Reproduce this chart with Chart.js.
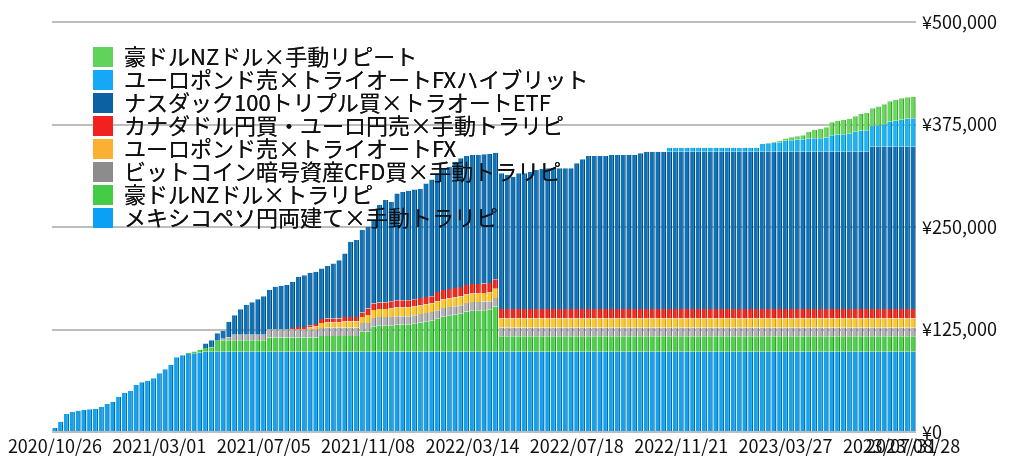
<!DOCTYPE html>
<html lang="ja">
<head>
<meta charset="utf-8">
<script src="https://cdn.jsdelivr.net/npm/chart.js@4.4.0/dist/chart.umd.min.js"></script>
<style>
  html, body { margin: 0; padding: 0; background: #fff; }
  #wrap { width: 1024px; height: 471px; }
</style>
</head>
<body>
<div id="wrap"><canvas id="profitChart" width="1024" height="471"></canvas></div>
<script>
// 週次の日付ラベル（2020/10/26 から 149 週）
const startDate = Date.UTC(2020, 9, 26);
const weekCount = 149;
const weekLabels = [];
for (let i = 0; i < weekCount; i++) {
  const d = new Date(startDate + i * 7 * 86400000);
  const mm = String(d.getUTCMonth() + 1).padStart(2, '0');
  const dd = String(d.getUTCDate()).padStart(2, '0');
  weekLabels.push(`${d.getUTCFullYear()}/${mm}/${dd}`);
}

const yTicks = [0, 125000, 250000, 375000, 500000];

// メキシコペソ円両建て×手動トラリピ
const mexicoPeso = [
  4900,12600,22000,24800,26000,26800,27700,28400,30900,34100,
  37000,43000,47900,50400,57300,60600,62600,65500,71600,76500,
  81700,91100,93500,95100,95900,96700,98000,98000,98000,98000,
  98000,98000,98000,98000,98000,98000,98000,98000,98000,98000,
  98000,98000,98000,98000,98000,98000,98000,98000,98000,98000,
  98000,98000,98000,98000,98000,98000,98000,98000,98000,98000,
  98000,98000,98000,98000,98000,98000,98000,98000,98000,98000,
  98000,98000,98000,98000,98000,98000,98000,98000,98000,98000,
  98000,98000,98000,98000,98000,98000,98000,98000,98000,98000,
  98000,98000,98000,98000,98000,98000,98000,98000,98000,98000,
  98000,98000,98000,98000,98000,98000,98000,98000,98000,98000,
  98000,98000,98000,98000,98000,98000,98000,98000,98000,98000,
  98000,98000,98000,98000,98000,98000,98000,98000,98000,98000,
  98000,98000,98000,98000,98000,98000,98000,98000,98000,98000,
  98000,98000,98000,98000,98000,98000,98000,98000,98000
];

// 豪ドルNZドル×トラリピ
const audNzdTrap = [
  0,0,0,0,0,0,0,0,0,0,
  0,0,0,0,0,0,0,0,0,0,
  0,0,0,1200,2400,3700,4300,5500,13400,14000,
  14000,14000,14000,14000,14000,14000,14000,17100,17100,17100,
  17100,17100,17100,17100,17100,17100,19100,19100,19100,19100,
  19100,19100,19100,24400,24400,30500,31700,31700,31700,32900,
  32900,32900,34100,35400,36600,37800,40200,42700,43900,45100,
  46300,48800,50000,50000,50600,51200,54900,18900,18900,18900,
  18900,18900,18900,18900,18900,18900,18900,18900,18900,18900,
  18900,18900,18900,18900,18900,18900,18900,18900,18900,18900,
  18900,18900,18900,18900,18900,18900,18900,18900,18900,18900,
  18900,18900,18900,18900,18900,18900,18900,18900,18900,18900,
  18900,18900,18900,18900,18900,18900,18900,18900,18900,18900,
  18900,18900,18900,18900,18900,18900,18900,18900,18900,18900,
  18900,18900,18900,18900,18900,18900,18900,18900,18900
];

// ビットコイン暗号資産CFD買×手動トラリピ
const bitcoinCfd = [
  0,0,0,0,0,0,0,0,0,0,
  0,0,0,0,0,0,0,0,0,0,
  0,0,0,0,0,0,0,0,0,1800,
  3700,6700,6700,6700,6700,6700,6700,9800,9800,9800,
  9800,9800,9800,9800,9800,9800,9800,10400,10400,10400,
  10400,10400,10400,10400,10400,10400,10400,10400,10400,10400,
  10400,10400,10400,10400,10400,10400,10400,10400,10400,10400,
  10400,10400,10400,10400,10400,10400,10400,10400,10400,10400,
  10400,10400,10400,10400,10400,10400,10400,10400,10400,10400,
  10400,10400,10400,10400,10400,10400,10400,10400,10400,10400,
  10400,10400,10400,10400,10400,10400,10400,10400,10400,10400,
  10400,10400,10400,10400,10400,10400,10400,10400,10400,10400,
  10400,10400,10400,10400,10400,10400,10400,10400,10400,10400,
  10400,10400,10400,10400,10400,10400,10400,10400,10400,10400,
  10400,10400,10400,10400,10400,10400,10400,10400,10400
];

// ユーロポンド売×トライオートFX
const eurGbpAuto = [
  0,0,0,0,0,0,0,0,0,0,
  0,0,0,0,0,0,0,0,0,0,
  0,0,0,0,0,0,0,0,0,0,
  0,0,0,0,0,0,0,0,0,0,
  0,0,0,0,2400,3700,6100,6100,6100,6100,
  7300,7300,7300,7300,9800,9800,9800,9800,10400,10400,
  10400,10400,10400,10400,10400,10400,10400,10400,10400,10400,
  10400,10400,10400,10400,10400,10400,11300,11000,11000,11000,
  11000,11000,11000,11000,11000,11000,11000,11000,11000,11000,
  11000,11000,11000,11000,11000,11000,11000,11000,11000,11000,
  11000,11000,11000,11000,11000,11000,11000,11000,11000,11000,
  11000,11000,11000,11000,11000,11000,11000,11000,11000,11000,
  11000,11000,11000,11000,11000,11000,11000,11000,11000,11000,
  11000,11000,11000,11000,11000,11000,11000,11000,11000,11000,
  11000,11000,11000,11000,11000,11000,11000,11000,11000
];

// カナダドル円買・ユーロ円売×手動トラリピ
const cadEurTrap = [
  0,0,0,0,0,0,0,0,0,0,
  0,0,0,0,0,0,0,0,0,0,
  0,0,0,0,0,0,0,0,0,0,
  0,0,0,0,0,0,0,0,0,0,
  0,1800,3000,3000,3000,3000,4900,4900,4900,4900,
  5500,5500,5500,5500,7900,7900,7900,7900,9100,9100,
  9100,9100,9100,9100,9100,9100,11600,11600,11600,11600,
  11600,11600,11600,11600,11600,11600,11600,11600,11600,11600,
  11600,11600,11600,11600,11600,11600,11600,11600,11600,11600,
  11600,11600,11600,11600,11600,11600,11600,11600,11600,11600,
  11600,11600,11600,11600,11600,11600,11600,11600,11600,11600,
  11600,11600,11600,11600,11600,11600,11600,11600,11600,11600,
  11600,11600,11600,11600,11600,11600,11600,11600,11600,11600,
  11600,11600,11600,11600,11600,11600,11600,11600,11600,11600,
  11600,11600,11600,11600,11600,11600,11600,11600,11600
];

// ナスダック100トリプル買×トラオートETF
const nasdaqEtf = [
  0,0,0,0,0,0,0,0,0,0,
  0,0,0,0,0,0,0,0,0,0,
  0,0,0,0,0,0,5700,8500,9100,9500,
  18700,23800,31100,36600,39600,43300,47000,48200,52200,53400,
  54300,56500,61300,63400,63800,63800,61600,63800,67100,71100,
  77400,91600,93700,100600,99800,101800,118900,125000,121100,130100,
  132100,133300,133800,132900,138700,142300,144800,148400,149100,154000,
  157000,157300,157300,157300,157600,157300,154300,165500,163400,161300,
  165500,165500,167400,169500,170700,171600,171600,171600,171600,171600,
  177700,182600,186600,186600,186600,186600,187800,187800,187800,187800,
  187800,189900,191800,191800,191800,191800,191800,191800,191800,191800,
  191800,191800,191800,191800,191800,191800,191800,191800,191800,191800,
  191800,191800,191800,191800,191800,191800,191800,191800,191800,191800,
  191800,191800,191800,191800,191800,191800,191800,191800,191800,191800,
  191800,197900,197900,197900,197900,197900,197900,197900,197900
];

// ユーロポンド売×トライオートFXハイブリット
const eurGbpHybrid = [
  0,0,0,0,0,0,0,0,0,0,
  0,0,0,0,0,0,0,0,0,0,
  0,0,0,0,0,0,0,0,0,0,
  0,0,0,0,0,0,0,0,0,0,
  0,0,0,0,0,0,0,0,0,0,
  0,0,0,0,0,0,0,0,0,0,
  0,0,0,0,0,0,0,0,0,0,
  0,0,0,0,0,0,0,0,0,0,
  0,0,0,0,0,0,0,0,0,0,
  0,0,0,0,0,0,0,0,0,0,
  0,0,0,0,0,0,4900,4900,4900,4900,
  4900,4900,4900,4900,4900,4900,4900,4900,4900,4900,
  4900,4900,9800,10400,11000,11600,13400,14000,14600,15200,
  15900,16500,16500,17100,20100,20700,21300,22000,24400,25600,
  26200,25600,26200,27400,30500,31700,32900,34100,34800
];

// 豪ドルNZドル×手動リピート
const audNzdManual = [
  0,0,0,0,0,0,0,0,0,0,
  0,0,0,0,0,0,0,0,0,0,
  0,0,0,0,0,0,0,0,0,0,
  0,0,0,0,0,0,0,0,0,0,
  0,0,0,0,0,0,0,0,0,0,
  0,0,0,0,0,0,0,0,0,0,
  0,0,0,0,0,0,0,0,0,0,
  0,0,0,0,0,0,0,0,0,0,
  0,0,0,0,0,0,0,0,0,0,
  0,0,0,0,0,0,0,0,0,0,
  0,0,0,0,0,0,0,0,0,0,
  0,0,0,0,0,0,0,0,0,0,
  0,0,0,0,1200,1800,2900,3700,4300,4900,
  8500,10400,11600,12800,15900,17100,17700,18300,18900,20700,
  21000,21500,23000,24500,25000,25600,26200,26200,26200
];

const seriesList = [
  { label: 'メキシコペソ円両建て×手動トラリピ', data: mexicoPeso, color: '#13a2ee', edge: '#0a6cae', box: '#0aa0f5' },
  { label: '豪ドルNZドル×トラリピ', data: audNzdTrap, color: '#4cd24a', edge: '#2f9a2e', box: '#44cc44' },
  { label: 'ビットコイン暗号資産CFD買×手動トラリピ', data: bitcoinCfd, color: '#b2b2b2', edge: '#7a7a7a', box: '#8c8c8c' },
  { label: 'ユーロポンド売×トライオートFX', data: eurGbpAuto, color: '#fcc82e', edge: '#d49a10', box: '#fbb034' },
  { label: 'カナダドル円買・ユーロ円売×手動トラリピ', data: cadEurTrap, color: '#f02a1e', edge: '#b81810', box: '#f22020' },
  { label: 'ナスダック100トリプル買×トラオートETF', data: nasdaqEtf, color: '#0d72b8', edge: '#074a7e', box: '#0a62a4' },
  { label: 'ユーロポンド売×トライオートFXハイブリット', data: eurGbpHybrid, color: '#18b6f4', edge: '#0d84c0', box: '#14a8f6' },
  { label: '豪ドルNZドル×手動リピート', data: audNzdManual, color: '#6ad85c', edge: '#3fa336', box: '#5fd35a' }
];

const baseFont = "'Noto Sans CJK JP', 'Noto Sans', sans-serif";

// 凡例を棒の上に描き、位置を左上にずらす
const legendOverlay = {
  id: 'legendOverlay',
  afterLayout(chart) {
    chart.legend.left = 92;
    chart.legend.top = 45;
  },
  afterDatasetsDraw(chart) {
    chart.legend.draw();
  }
};

const ctx = document.getElementById('profitChart').getContext('2d');
new Chart(ctx, {
  type: 'bar',
  data: {
    labels: weekLabels,
    datasets: seriesList.map(s => ({
      label: s.label,
      data: s.data,
      backgroundColor: s.color,
      borderColor: s.edge,
      borderWidth: { right: 1.5 },
      borderSkipped: false,
      legendBox: s.box,
      barPercentage: 0.9,
      categoryPercentage: 1
    }))
  },
  options: {
    responsive: false,
    animation: false,
    devicePixelRatio: 1,
    layout: { padding: { top: 22, left: 52, right: 0, bottom: 0 } },
    plugins: {
      tooltip: { enabled: false },
      legend: {
        position: 'chartArea',
        align: 'start',
        reverse: true,
        labels: {
          color: '#111',
          font: { family: baseFont, size: 22 },
          boxWidth: 20,
          boxHeight: 20,
          padding: 1,
          generateLabels(chart) {
            return chart.data.datasets.map((ds, i) => ({
              text: ds.label,
              fillStyle: ds.legendBox,
              strokeStyle: ds.legendBox,
              lineWidth: 0,
              hidden: false,
              datasetIndex: i,
              fontColor: '#111'
            }));
          }
        }
      }
    },
    scales: {
      x: {
        stacked: true,
        grid: { display: false },
        border: { display: false },
        afterFit(scale) { scale.height = 39; },
        ticks: {
          autoSkip: false,
          maxRotation: 0,
          minRotation: 0,
          padding: -5,
          color: '#111',
          font: { family: baseFont, size: 18 },
          callback(value, index) {
            return (index % 18 === 0 || index === weekLabels.length - 1) ? weekLabels[index] : '';
          }
        }
      },
      y: {
        stacked: true,
        position: 'right',
        min: yTicks[0],
        max: yTicks[yTicks.length - 1],
        afterFit(scale) { scale.width = 108; },
        afterBuildTicks(scale) { scale.ticks = yTicks.map(v => ({ value: v })); },
        grid: { color: '#bdbdbd', lineWidth: 2, drawTicks: false },
        border: { display: false },
        ticks: {
          padding: 6,
          color: '#111',
          font: { family: baseFont, size: 18 },
          callback: (v) => '¥' + Number(v).toLocaleString('en-US')
        }
      }
    }
  },
  plugins: [legendOverlay]
});
</script>
</body>
</html>
